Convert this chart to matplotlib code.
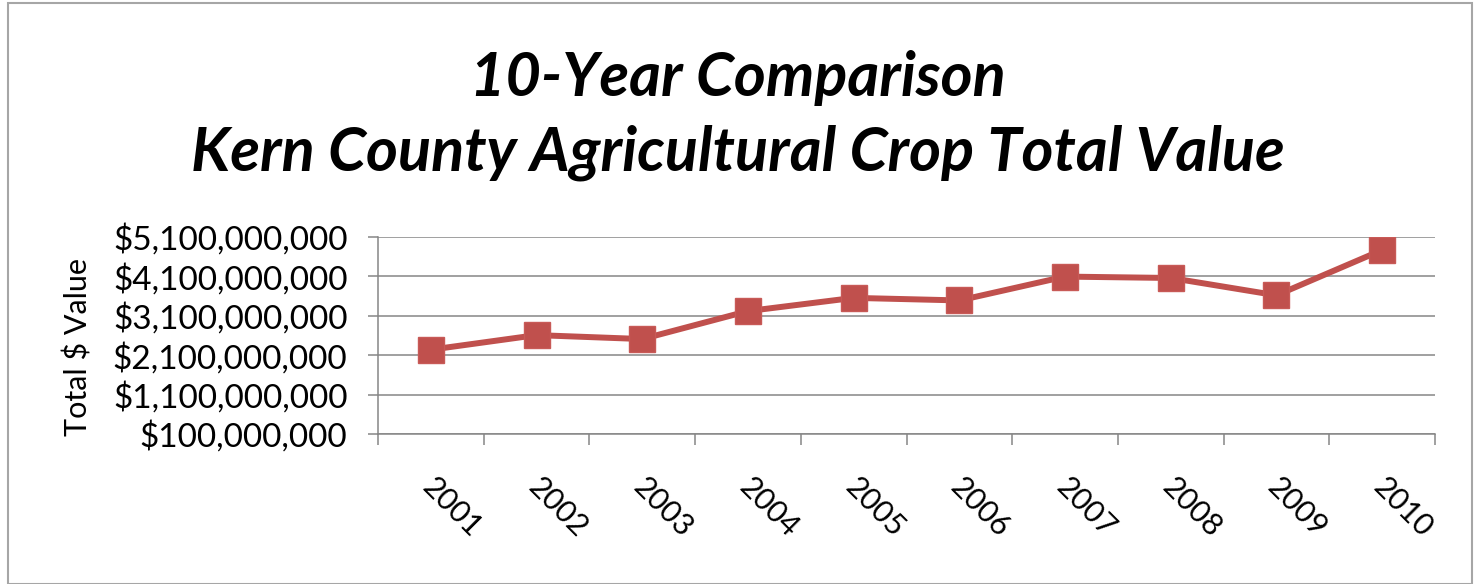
import matplotlib
matplotlib.use("Agg")
import matplotlib.pyplot as plt
from matplotlib.patches import Rectangle
from matplotlib.ticker import FixedLocator, FuncFormatter

# Kern County crop totals (billions of dollars)
years = ["2001", "2002", "2003", "2004", "2005", "2006", "2007", "2008", "2009", "2010"]
values = [2.24, 2.61, 2.51, 3.22, 3.555, 3.49, 4.095, 4.06, 3.62, 4.77]
y_ticks = [0.1, 1.1, 2.1, 3.1, 4.1, 5.1]

font = "Lato"
grid_col = "#868686"
line_col = "#C0504D"

fig = plt.figure(figsize=(14.8, 5.84), dpi=100)
ax = fig.add_axes([378 / 1480, 1 - 434 / 584, (1435 - 378) / 1480, (434 - 237) / 584])

x = list(range(len(years)))
ax.plot(x, [v * 1e9 for v in values], color=line_col, lw=4.3, marker="s",
        markersize=18.5, markerfacecolor=line_col, markeredgecolor="#c85a57",
        markeredgewidth=1, solid_joinstyle="round", zorder=3)

ax.set_xlim(-0.5, len(years) - 0.5)
ax.set_ylim(y_ticks[0] * 1e9, y_ticks[-1] * 1e9)
ax.yaxis.set_major_locator(FixedLocator([t * 1e9 for t in y_ticks]))
ax.yaxis.set_major_formatter(FuncFormatter(lambda v, p: "${:,.0f}".format(round(v, -6))))
ax.grid(axis="y", color=grid_col, lw=1.1)
ax.set_axisbelow(True)

ax.set_xticks(x)
ax.set_xticklabels(years, rotation=-45, rotation_mode="anchor", ha="left", va="center",
                   fontsize=22, family=font)
ax.set_xticks([i + 0.5 for i in range(-1, len(years))], minor=True)
ax.tick_params(axis="x", which="major", length=0, pad=35)
ax.tick_params(axis="x", which="minor", length=8, width=1.1, color=grid_col)
ax.tick_params(axis="y", length=7, width=1.1, color=grid_col, labelsize=24, pad=15)
for lab in ax.get_yticklabels():
    lab.set_family(font)
# nudge year labels a little left of the category centre, as in the original
import matplotlib.transforms as mtransforms
shift = mtransforms.ScaledTranslation(-4 / 100, 0, fig.dpi_scale_trans)
for lab in ax.get_xticklabels():
    lab.set_transform(lab.get_transform() + shift)

for side in ["top", "right"]:
    ax.spines[side].set_visible(False)
for side in ["left", "bottom"]:
    ax.spines[side].set_color(grid_col)
    ax.spines[side].set_linewidth(1.1)

fig.text(78 / 1480, 1 - 347 / 584, "Total $ Value", rotation=90, ha="center", va="center",
         fontsize=22, family=font)

fig.text(0.5 * (190 + 1285) / 1480 + 0.0, 1 - 78 / 584, "10-Year Comparison", ha="center",
         va="center", fontsize=44, family=font, weight="bold", style="italic")
fig.text(0.5 * (190 + 1285) / 1480, 1 - 153 / 584, "Kern County Agricultural Crop Total Value",
         ha="center", va="center", fontsize=44, family=font, weight="bold", style="italic")

fig.patches.append(Rectangle((8 / 1480, 0.0), 1464 / 1480, 1 - 3 / 584, transform=fig.transFigure,
                             fill=False, edgecolor="#a6a6a6", lw=1.5))

fig.savefig("out.png", dpi=100)
